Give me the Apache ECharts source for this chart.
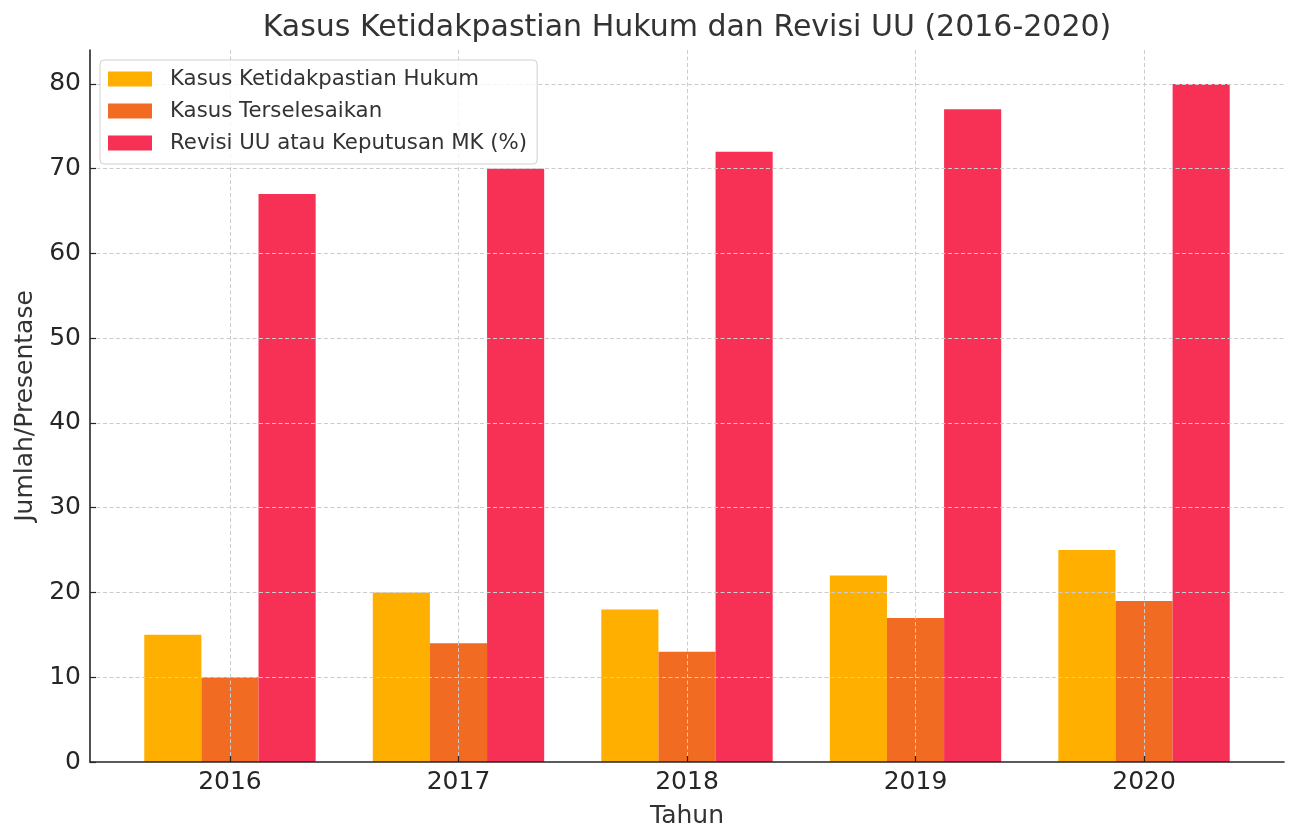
<!DOCTYPE html>
<html>
<head>
<meta charset="utf-8">
<script src="https://cdn.jsdelivr.net/npm/echarts@6/dist/echarts.min.js"></script>
<style>html,body{margin:0;padding:0;background:#fff}#c{width:1290px;height:825px}</style>
</head>
<body>
<div id="c"></div>
<script>
const years = [2016, 2017, 2018, 2019, 2020];
const kasus = [15, 20, 18, 22, 25];
const terselesaikan = [10, 14, 13, 17, 19];
const revisi = [67, 70, 72, 77, 80];
const seriesNames = ['Kasus Ketidakpastian Hukum', 'Kasus Terselesaikan', 'Revisi UU atau Keputusan MK (%)'];
const colors = ['#FFAF00', '#F26B22', '#F73156'];

const chart = echarts.init(document.getElementById('c'), null, {renderer: 'canvas'});
const font = 'DejaVu Sans';
function pairs(vals){ return years.map((y,i)=>[y, vals[i]]); }
const allVals = [kasus, terselesaikan, revisi];
const series = allVals.map((vals, i) => ({
  name: seriesNames[i],
  type: 'bar',
  data: pairs(vals),
  barWidth: '25%',
  barGap: '0%',
  itemStyle: {color: colors[i]},
  emphasis: {disabled: true},
  z: 2
}));
chart.setOption({
  animation: false,
  backgroundColor: '#fff',
  title: {
    text: 'Kasus Ketidakpastian Hukum dan Revisi UU (2016-2020)',
    left: 682, textAlign: 'center', top: 8,
    textStyle: {fontFamily: font, fontSize: 30, fontWeight: 'normal', color: '#333'}
  },
  legend: {
    orient: 'vertical', left: 100, top: 60,
    padding: [8.5, 10, 10.5, 8],
    itemWidth: 44, itemHeight: 15, itemGap: 11,
    backgroundColor: 'rgba(255,255,255,0.8)',
    borderColor: '#d0d0d0', borderWidth: 1, borderRadius: 4,
    icon: 'rect',
    textStyle: {fontFamily: font, fontSize: 21.3, color: '#333', padding: [0,0,0,13]},
    data: seriesNames,
    z: 5
  },
  grid: {left: 90, right: 6, top: 50, bottom: 63, containLabel: false, outerBoundsMode: 'none'},
  xAxis: {
    type: 'value', min: 2015.3875, max: 2020.6125,
    name: 'Tahun', nameLocation: 'middle', nameGap: 42,
    nameTextStyle: {fontFamily: font, fontSize: 25, color: '#333'},
    axisLine: {show: true, lineStyle: {color: '#262626', width: 1.6}},
    axisTick: {show: true, inside: true, length: 6, lineStyle: {color: '#262626', width: 1.2}},
    axisLabel: {fontFamily: font, fontSize: 25, color: '#262626', margin: 8, showMinLabel: false, showMaxLabel: false,
      formatter: v => Number.isInteger(v) ? String(v) : ''},
    splitLine: {show: true, showMinLine: false, showMaxLine: false, lineStyle: {color: '#cccccc', type: [4, 2.5], width: 1}},
    z: 3
  },
  yAxis: {
    type: 'value', min: 0, max: 84, interval: 10,
    name: 'Jumlah/Presentase', nameLocation: 'middle', nameGap: 45, nameRotate: 90,
    nameTextStyle: {fontFamily: font, fontSize: 25, color: '#333'},
    axisLine: {show: true, lineStyle: {color: '#262626', width: 1.6}},
    axisTick: {show: true, inside: true, length: 6, lineStyle: {color: '#262626', width: 1.2}},
    axisLabel: {fontFamily: font, fontSize: 25, color: '#262626', margin: 9, showMaxLabel: false},
    splitLine: {show: true, showMinLine: false, showMaxLine: false, lineStyle: {color: '#cccccc', type: [4, 2.5], width: 1}},
    z: 3
  },
  series: series
});
</script>
</body>
</html>
